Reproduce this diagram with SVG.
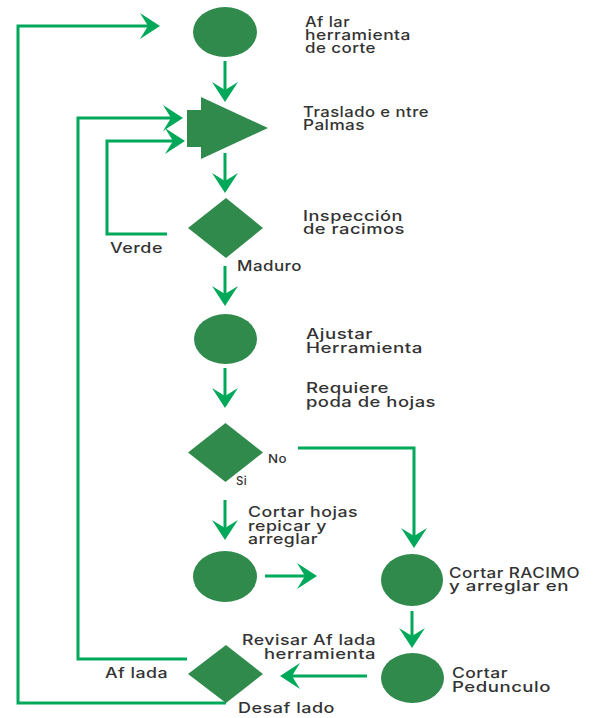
<svg xmlns="http://www.w3.org/2000/svg" width="593" height="718" viewBox="0 0 593 718">
  <style>
    .shape { fill: #2f8a4c; }
    .wire { fill: none; stroke: #00a859; stroke-width: 3; marker-end: url(#head); }
    .lbl { font-family: Inter, "Open Sans", "Liberation Sans", sans-serif; font-weight: 500; font-size: 14.5px; fill: #333333; letter-spacing: 0.4px; }
    .xs { font-size: 12px; }
  </style>
  <defs>
    <marker id="head" markerUnits="userSpaceOnUse" markerWidth="20" markerHeight="26" viewBox="0 0 20 26" refX="8" refY="13" orient="auto">
      <path d="M0,0 L20,13 L0,26 L8,13 Z" fill="#00a859"/>
    </marker>
  </defs>

  <!-- connectors -->
  <g id="connectors">
    <path class="wire" d="M226,703 H18 V26 H148"/>
    <path class="wire" d="M225,61 V90"/>
    <path class="wire" d="M187,659 H78 V118 H171"/>
    <path class="wire" d="M167,234 H107 V141 H173"/>
    <path class="wire" d="M225,153 V181"/>
    <path class="wire" d="M225,266 V294"/>
    <path class="wire" d="M225,368 V396"/>
    <path class="wire" d="M298,448 H414 V536"/>
    <path class="wire" d="M225,500 V528"/>
    <path class="wire" d="M265,576 H305"/>
    <path class="wire" d="M412,611 V636"/>
    <path class="wire" d="M367,676 H292"/>
  </g>

  <!-- nodes -->
  <g id="afilar">
    <ellipse class="shape" cx="225" cy="32" rx="32" ry="25"/>
    <text class="lbl" x="305" y="27" textLength="45" lengthAdjust="spacingAndGlyphs">Af lar</text>
    <text class="lbl" x="305" y="40" textLength="106" lengthAdjust="spacingAndGlyphs">herramienta</text>
    <text class="lbl" x="305" y="53" textLength="71" lengthAdjust="spacingAndGlyphs">de corte</text>
  </g>

  <g id="traslado">
    <polygon class="shape" points="187,110 201,110 201,97 268,128 201,159 201,147 187,147"/>
    <text class="lbl" x="303" y="117" textLength="126" lengthAdjust="spacingAndGlyphs">Traslado e ntre</text>
    <text class="lbl" x="303" y="130" textLength="62" lengthAdjust="spacingAndGlyphs">Palmas</text>
  </g>

  <g id="inspeccion">
    <polygon class="shape" points="226,198 263,228 226,258 188,228"/>
    <text class="lbl" x="303" y="221" textLength="100" lengthAdjust="spacingAndGlyphs">Inspección</text>
    <text class="lbl" x="303" y="234" textLength="102" lengthAdjust="spacingAndGlyphs">de racimos</text>
    <text class="lbl" x="110" y="253" textLength="53" lengthAdjust="spacingAndGlyphs">Verde</text>
    <text class="lbl" x="237" y="271" textLength="65" lengthAdjust="spacingAndGlyphs">Maduro</text>
  </g>

  <g id="ajustar">
    <ellipse class="shape" cx="225.5" cy="339" rx="31.5" ry="25"/>
    <text class="lbl" x="306" y="339" textLength="67" lengthAdjust="spacingAndGlyphs">Ajustar</text>
    <text class="lbl" x="306" y="353" textLength="117" lengthAdjust="spacingAndGlyphs">Herramienta</text>
  </g>

  <g id="poda">
    <polygon class="shape" points="225.5,423 263,452.5 225.5,482 188,452.5"/>
    <text class="lbl" x="306" y="393" textLength="83" lengthAdjust="spacingAndGlyphs">Requiere</text>
    <text class="lbl" x="306" y="407" textLength="130" lengthAdjust="spacingAndGlyphs">poda de hojas</text>
    <text class="lbl xs" x="268" y="463" textLength="19" lengthAdjust="spacingAndGlyphs">No</text>
    <text class="lbl xs" x="236" y="485" textLength="11" lengthAdjust="spacingAndGlyphs">Si</text>
  </g>

  <g id="cortar-hojas">
    <ellipse class="shape" cx="225" cy="576.5" rx="32" ry="25.5"/>
    <text class="lbl" x="248" y="517" textLength="110" lengthAdjust="spacingAndGlyphs">Cortar hojas</text>
    <text class="lbl" x="248" y="530.5" textLength="79" lengthAdjust="spacingAndGlyphs">repicar y</text>
    <text class="lbl" x="248" y="544" textLength="70" lengthAdjust="spacingAndGlyphs">arreglar</text>
  </g>

  <g id="cortar-racimo">
    <ellipse class="shape" cx="412" cy="580" rx="31" ry="26"/>
    <text class="lbl" x="449" y="578" textLength="131" lengthAdjust="spacingAndGlyphs">Cortar RACIMO</text>
    <text class="lbl" x="449" y="591" textLength="120" lengthAdjust="spacingAndGlyphs">y arreglar en</text>
  </g>

  <g id="cortar-pedunculo">
    <ellipse class="shape" cx="412.5" cy="678" rx="31.5" ry="25"/>
    <text class="lbl" x="452" y="678" textLength="56" lengthAdjust="spacingAndGlyphs">Cortar</text>
    <text class="lbl" x="452" y="692" textLength="99" lengthAdjust="spacingAndGlyphs">Pedunculo</text>
  </g>

  <g id="revisar">
    <polygon class="shape" points="226,645 263,674 226,703 188,674"/>
    <text class="lbl" x="242" y="645" textLength="134" lengthAdjust="spacingAndGlyphs">Revisar Af lada</text>
    <text class="lbl" x="264" y="659" textLength="112" lengthAdjust="spacingAndGlyphs">herramienta</text>
    <text class="lbl" x="105" y="678" textLength="63" lengthAdjust="spacingAndGlyphs">Af lada</text>
    <text class="lbl" x="238" y="713" textLength="97" lengthAdjust="spacingAndGlyphs">Desaf lado</text>
  </g>
</svg>
